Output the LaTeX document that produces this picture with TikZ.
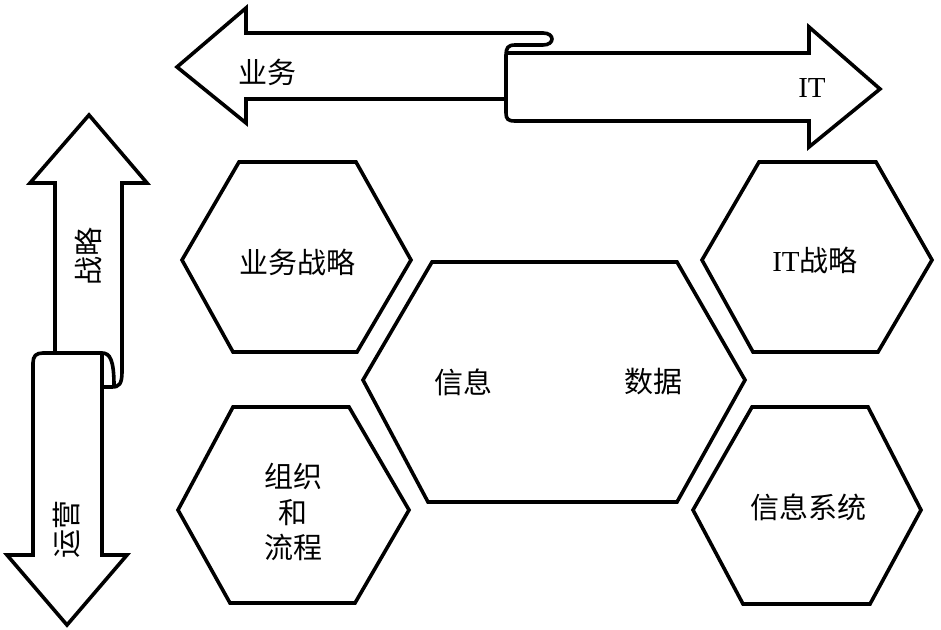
\documentclass[tikz,border=0pt]{standalone}
\usepackage{fontspec}
\setmainfont{Liberation Serif}
\newfontfamily\cjk{Noto Sans CJK SC}

\begin{document}
\begin{tikzpicture}[x=0.5pt,y=-0.5pt,
  outline/.style={draw,line width=1.8pt},
  lbl/.style={font=\cjk\fontsize{14.5}{17.75}\selectfont,inner sep=0pt}]
  \useasboundingbox (0,0) rectangle (941,630);
  \draw[outline] (543,33) -- (246,33) -- (246,8) -- (177,67) -- (246,123) -- (246,99) -- (506,99);
  \draw[outline] (543,33) .. controls (555,33) and (555,45) .. (543,45) -- (515,45)
    .. controls (508,45) and (506,48) .. (506,55) -- (506,113)
    .. controls (506,119) and (508,121) .. (515,121) -- (809,121) -- (809,147) -- (880,89)
    -- (809,27) -- (809,53) -- (508,53);
  \draw[outline] (55,353) -- (55,183) -- (30,183) -- (89,115) -- (147,183) -- (122,183) -- (122,372)
    .. controls (122,384) and (119,387) .. (112,387) -- (102,387);
  \draw[outline] (102,353) -- (102,555) -- (127,555) -- (67,625) -- (7,555) -- (33,555) -- (33,363)
    .. controls (33,356) and (36,353) .. (43,353) -- (102,353)
    .. controls (110,353) and (114,360) .. (114,386);
  \node[lbl] (yw) at (267,72) {业务};
  \node[lbl] (it) at (812,88) {\rmfamily IT};
  \node[lbl,rotate=90] (zl) at (88,257) {战略};
  \node[lbl,rotate=90] (yy) at (67,529) {运营};
  \draw[outline] (239,162) -- (356,162) -- (411,260) -- (357,352) -- (233,352) -- (182,260) -- cycle;
  \draw[outline] (233,407) -- (349,407) -- (409,510) -- (355,603) -- (230,603) -- (178,510) -- cycle;
  \draw[outline] (759,162) -- (876,162) -- (932,260) -- (878,352) -- (753,352) -- (702,260) -- cycle;
  \draw[outline] (752,407) -- (868,407) -- (921,510) -- (870,604) -- (743,604) -- (693,510) -- cycle;
  \draw[outline] (432,262) -- (677,262) -- (745,380) -- (677,502) -- (428,502) -- (363,380) -- cycle;
  \node[lbl] (ywzl) at (297,262) {业务战略};
  \node[lbl] (itzl) at (815,260) {{\rmfamily IT}战略};
  \node[lbl,align=center] (zzlc) at (293,512) {组织\\和\\流程};
  \node[lbl] (xx) at (463,382) {信息};
  \node[lbl] (sj) at (653,382) {数据};
  \node[lbl] (xxxt) at (808,507) {信息系统};
\end{tikzpicture}
\end{document}
